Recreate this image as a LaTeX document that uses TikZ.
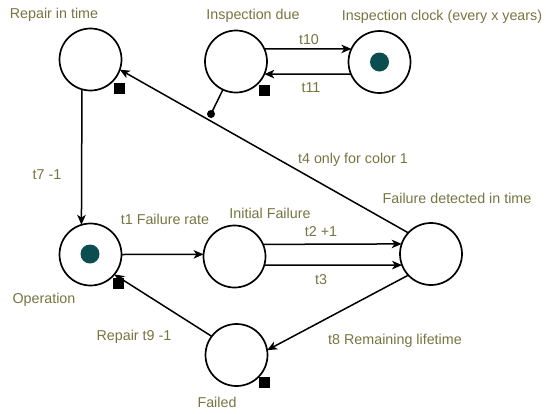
\documentclass[tikz,border=0pt]{standalone}
\usepackage{fontspec}
\setmainfont{Liberation Sans}
\usetikzlibrary{arrows.meta}
\definecolor{lblcol}{RGB}{118,118,66}
\definecolor{tokcol}{RGB}{12,78,80}
\begin{document}
\begin{tikzpicture}[x=1pt,y=-1pt,
  pnplace/.style={circle,draw,line width=1.7pt,minimum size=62pt,inner sep=0pt,outer sep=0pt},
  pntoken/.style={circle,fill=tokcol,minimum size=19pt,inner sep=0pt},
  pnlbl/.style={text=lblcol,font=\fontsize{14.3}{16}\selectfont,inner sep=0pt},
  sqmark/.style={fill=black,minimum size=11pt,inner sep=0pt},
  pnarc/.style={line width=1.5pt,-{Stealth[length=10pt,width=8.5pt,inset=2.8pt]}},
  pnline/.style={line width=1.5pt}]
\useasboundingbox[fill=white] (0,0) rectangle (546,413);
% places
\node[pnplace] (RiT) at (90.5,59.5) {};
\node[pnplace] (ID) at (236,61.5) {};
\node[pnplace] (IC) at (379.5,62) {};
\node[pnplace] (Op) at (90.5,254.5) {};
\node[pnplace] (IF) at (234.5,256.5) {};
\node[pnplace] (FD) at (431,254) {};
\node[pnplace] (Fa) at (236.5,355) {};
% tokens
\node[pntoken] (tokIC) at (IC) {};
\node[pntoken] (tokOp) at (90,254) {};
% square markers
\node[sqmark] (mRiT) at (119,88) {};
\node[sqmark] (mID) at (264,90) {};
\node[sqmark] (mOp) at (118,283) {};
\node[sqmark] (mFa) at (264,382) {};
% read-arc dot
\node[circle,fill=black,minimum size=8pt,inner sep=0pt] (dotp) at (211,114) {};
% arcs
\draw[pnarc] (RiT.254) -- (Op.107);
\draw[pnarc] (Op.0) -- (IF.176);
\draw[pnarc] (IF.23) -- (FD.161);
\draw[pnarc] (IF.344) -- (FD.201);
\draw[pnarc] (FD.137) -- (RiT.341);
\draw[pnarc] (FD.223) -- (Fa.9);
\draw[pnarc] (Fa.143) -- (Op.320);
\draw[pnarc] (ID.24) -- (IC.155);
\draw[pnarc] (IC.203) -- (ID.336);
\draw[pnline] (ID.245) -- (dotp.center);
% labels
\node[pnlbl] (lRiT) at (54,15) {Repair in time};
\node[pnlbl] (lID) at (253,16) {Inspection due};
\node[pnlbl] (lIC) at (442,17) {Inspection clock (every x years)};
\node[pnlbl] (lt10) at (309,40) {t10};
\node[pnlbl] (lt11) at (311,88) {t11};
\node[pnlbl] (lt7) at (47,175) {t7 -1};
\node[pnlbl] (lt4) at (353,160) {t4 only for color 1};
\node[pnlbl] (lFD) at (457,198) {Failure detected in time};
\node[pnlbl] (lt1) at (165,219) {t1 Failure rate};
\node[pnlbl] (lIF) at (270,213) {Initial Failure};
\node[pnlbl] (lt2) at (321,232) {t2 +1};
\node[pnlbl] (lt3) at (321,280) {t3};
\node[pnlbl] (lOp) at (44,300) {Operation};
\node[pnlbl] (lt9) at (134,337) {Repair t9 -1};
\node[pnlbl] (lt8) at (395,341) {t8 Remaining lifetime};
\node[pnlbl] (lFa) at (217,402) {Failed};
\end{tikzpicture}
\end{document}
